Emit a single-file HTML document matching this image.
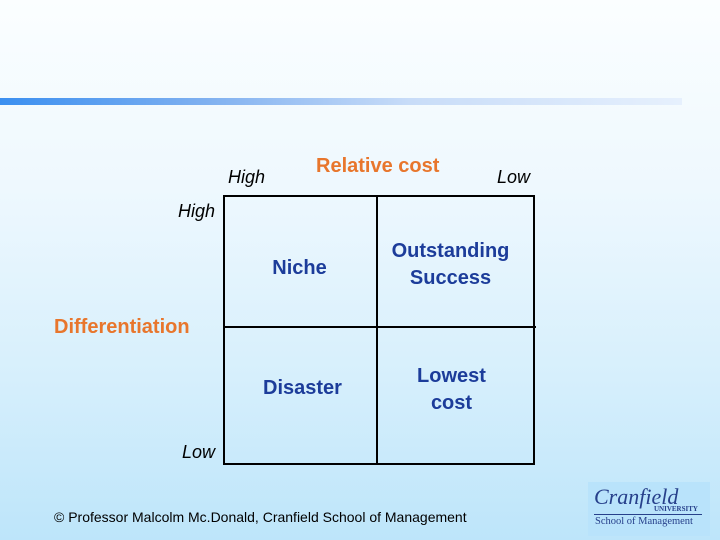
<!DOCTYPE html>
<html><head><meta charset="utf-8"><style>
body{margin:0}
#s{position:relative;width:720px;height:540px;overflow:hidden;background:linear-gradient(180deg,#fbfeff 0%,#eef8fe 35%,#d6effc 70%,#bde5fa 100%);font-family:"Liberation Sans",sans-serif}
.t{position:absolute;white-space:nowrap}
.i{font-style:italic;font-size:18px;color:#000}
.b{font-weight:bold;font-size:20px;color:#1c3c9a;text-align:center;line-height:27px}
.o{font-weight:bold;font-size:20px;color:#e8762c}
.l{position:absolute;background:#000}
</style></head><body>
<div id="s">
<div style="position:absolute;left:0;top:98px;width:682px;height:7px;background:linear-gradient(90deg,#3b8ff0 0%,#7fb0f0 30%,#c8dcf8 60%,#e6f0fd 100%)"></div>
<div class="t i" style="left:228px;top:167px">High</div>
<div class="t o" style="left:316px;top:155px">Relative cost</div>
<div class="t i" style="left:497px;top:167px">Low</div>
<div class="t i" style="left:178px;top:201px">High</div>
<div class="t o" style="left:54px;top:316px">Differentiation</div>
<div class="t i" style="left:182px;top:442px">Low</div>
<div class="l" style="left:223px;top:195px;width:312px;height:2px"></div>
<div class="l" style="left:223px;top:463px;width:312px;height:2px"></div>
<div class="l" style="left:223px;top:195px;width:2px;height:270px"></div>
<div class="l" style="left:533px;top:195px;width:2px;height:270px"></div>
<div class="l" style="left:376px;top:195px;width:2px;height:270px"></div>
<div class="l" style="left:223px;top:326px;width:313px;height:2px"></div>
<div class="t b" style="left:224px;top:255px;width:151px">Niche</div>
<div class="t b" style="left:373px;top:238px;width:155px">Outstanding<br>Success</div>
<div class="t b" style="left:227px;top:375px;width:151px">Disaster</div>
<div class="t b" style="left:378px;top:363px;width:147px">Lowest<br>cost</div>
<div class="t" style="left:54px;top:509px;font-size:14px;color:#000">© Professor Malcolm Mc.Donald, Cranfield School of Management</div>
<div style="position:absolute;left:588px;top:482px;width:122px;height:54px;background:#b9e3fb">
<div class="t" style="left:6px;top:2px;font-family:'Liberation Serif',serif;font-style:italic;font-size:22px;color:#27408b">Cranfield</div>
<div class="t" style="left:66px;top:23px;font-family:'Liberation Serif',serif;font-size:7px;font-weight:bold;color:#27408b">UNIVERSITY</div>
<div style="position:absolute;left:6px;top:32px;width:108px;height:1px;background:#27408b"></div>
<div class="t" style="left:7px;top:34px;font-family:'Liberation Serif',serif;font-size:10.5px;color:#27408b">School of Management</div>
</div>
</div>
</body></html>
